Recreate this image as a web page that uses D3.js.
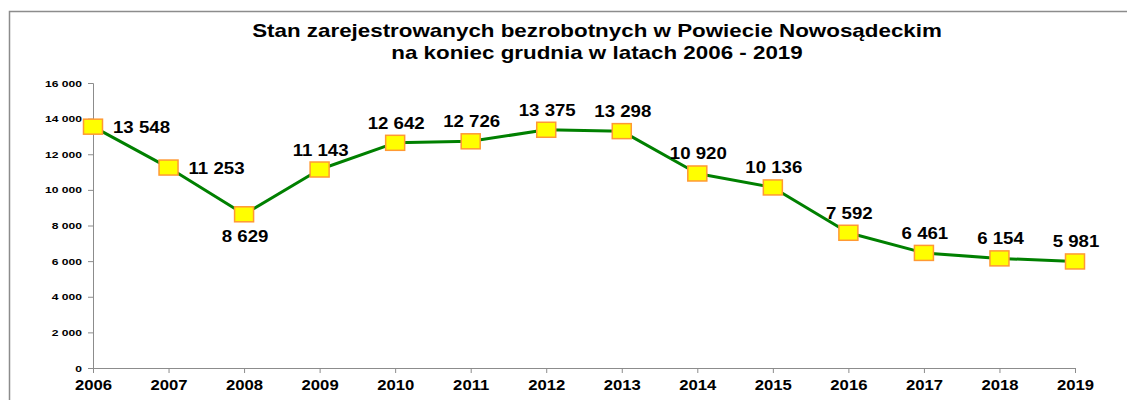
<!DOCTYPE html>
<html>
<head>
<meta charset="utf-8">
<script src="https://cdn.jsdelivr.net/npm/d3@7"></script>
<style>
  html, body { margin: 0; padding: 0; background: #fff; }
  svg { display: block; }
  text { font-family: "Liberation Sans", Arial, sans-serif; font-weight: bold; fill: #000; }
</style>
</head>
<body>
<script>
// ---- data ----
const years = ["2006","2007","2008","2009","2010","2011","2012","2013","2014","2015","2016","2017","2018","2019"];
const values = [13548, 11253, 8629, 11143, 12642, 12726, 13375, 13298, 10920, 10136, 7592, 6461, 6154, 5981];
const labelPlacement = ["right","right","below","above","above","above","above","above","above","above","above","above","above","above"];
const yTicks = [0, 2000, 4000, 6000, 8000, 10000, 12000, 14000, 16000];
const titleLines = ["Stan zarejestrowanych bezrobotnych w Powiecie Nowosądeckim", "na koniec grudnia w latach 2006 - 2019"];

// ---- layout ----
const W = 1127, H = 400;
const sx = 1.25; // horizontal stretch of title / y-tick text
const plot = { left: 93, right: 1075, top: 83, bottom: 368 };

const svg = d3.select("body").append("svg").attr("width", W).attr("height", H);

// frame (left & top border)
svg.append("path")
  .attr("d", `M9.5,${H} L9.5,11.5 L${W},11.5`)
  .attr("fill", "none").attr("stroke", "#8c8c8c").attr("stroke-width", 1.5);

// title
const tg = svg.append("g");
titleLines.forEach((t, i) => {
  tg.append("g").attr("transform", `translate(597,${37 + i * 22}) scale(${sx},1)`)
    .append("text").attr("text-anchor", "middle").style("font-size", "17.9px").text(t);
});

const fmt = v => d3.format(",")(v).replace(/,/g, " ");

const x = d3.scalePoint().domain(years).range([plot.left, plot.right]).padding(0);
const y = d3.scaleLinear().domain([0, 16000]).range([plot.bottom, plot.top]);

// y axis
const yAxis = svg.append("g").attr("transform", `translate(${plot.left},0)`)
  .call(d3.axisLeft(y).tickValues(yTicks).tickSize(5).tickPadding(6).tickFormat(fmt));
yAxis.select(".domain").attr("stroke", "#8c8c8c").attr("d", `M-5,${plot.top + 0.5}H0.5V${plot.bottom}`);
yAxis.selectAll(".tick line").attr("stroke", "#8c8c8c");
yAxis.selectAll(".tick text")
  .attr("x", -11 / sx).attr("transform", `scale(${sx},1)`)
  .style("font-size", "9.7px").style("font-family", "Liberation Sans, Arial, sans-serif").style("font-weight", "bold").attr("fill", "#000");

// x axis
const xsx = 1.15;
const xAxis = svg.append("g").attr("transform", `translate(0,${plot.bottom})`)
  .call(d3.axisBottom(x).tickSize(5).tickPadding(8));
xAxis.select(".domain").attr("stroke", "#8c8c8c").attr("d", `M${plot.left},0.5H${plot.right}`);
xAxis.selectAll(".tick line").attr("stroke", "#8c8c8c");
xAxis.selectAll(".tick text")
  .attr("transform", `scale(${xsx},1)`).attr("y", 12).attr("dy", "0.71em")
  .style("font-size", "14.5px").style("font-family", "Liberation Sans, Arial, sans-serif").style("font-weight", "bold").attr("fill", "#000");

// line
const data = years.map((yr, i) => ({ yr, v: values[i], pos: labelPlacement[i] }));
svg.append("path").datum(data)
  .attr("fill", "none").attr("stroke", "#008000").attr("stroke-width", 3).attr("stroke-linejoin", "round")
  .attr("d", d3.line().x(d => x(d.yr)).y(d => y(d.v)));

// markers
svg.append("g").selectAll("rect").data(data).join("rect")
  .attr("x", d => x(d.yr) - 9.5).attr("y", d => y(d.v) - 7.5)
  .attr("width", 19).attr("height", 15)
  .attr("fill", "#ffff00").attr("stroke", "#ff9933").attr("stroke-width", 1.5);

// data labels
const lsx = 1.13;
const lab = svg.append("g").selectAll("g").data(data).join("g")
  .attr("transform", d => {
    const cx = x(d.yr), cy = y(d.v);
    if (d.pos === "right") return `translate(${cx + 20},${cy + 6}) scale(${lsx},1)`;
    if (d.pos === "below") return `translate(${cx + 1},${cy + 28}) scale(${lsx},1)`;
    return `translate(${cx + 1},${cy - 14}) scale(${lsx},1)`;
  });
lab.append("text")
  .attr("text-anchor", d => d.pos === "right" ? "start" : "middle")
  .style("font-size", "16.5px")
  .text(d => fmt(d.v));
</script>
</body>
</html>
